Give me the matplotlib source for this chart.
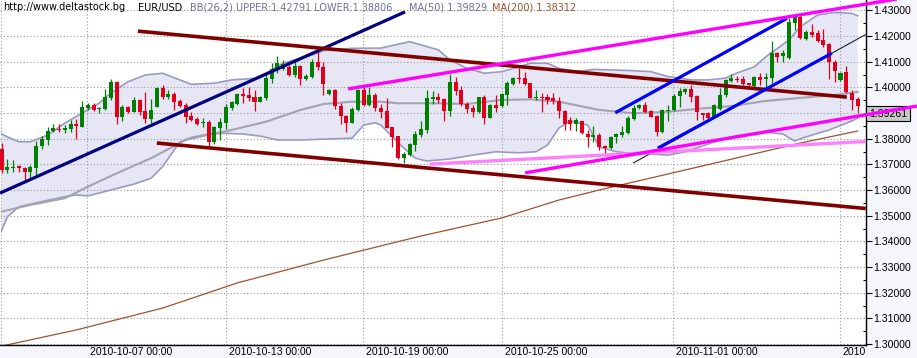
import numpy as np
import matplotlib
matplotlib.use("Agg")
import matplotlib.pyplot as plt
from matplotlib.transforms import ScaledTranslation, blended_transform_factory

# EUR/USD 4h bars, index 0 = first visible bar
opens = [
    1.3760, 1.3678, 1.3686, 1.3694, 1.3687, 1.3671, 1.3685, 1.3773, 1.3795, 1.3830,
    1.3839, 1.3834, 1.3838, 1.3857, 1.3847, 1.3921, 1.3931, 1.3914, 1.3914, 1.3957,
    1.4022, 1.3883, 1.3925, 1.3905, 1.3951, 1.3909, 1.3876, 1.3925, 1.3996, 1.3964,
    1.3973, 1.3947, 1.3931, 1.3888, 1.3876, 1.3860, 1.3864, 1.3788, 1.3843, 1.3862,
    1.3921, 1.3935, 1.3974, 1.3970, 1.3964, 1.3944, 1.3957, 1.4033, 1.4070, 1.4072,
    1.4080, 1.4048, 1.4083, 1.4033, 1.4042, 1.4098, 1.4080, 1.3973, 1.3990, 1.3927,
    1.3890, 1.3862, 1.3912, 1.3990, 1.3931, 1.3970, 1.3918, 1.3908, 1.3844, 1.3810,
    1.3724, 1.3736, 1.3775, 1.3814, 1.3834, 1.3956, 1.3962, 1.3955, 1.3908, 1.4022,
    1.3990, 1.3935, 1.3920, 1.3905, 1.3961, 1.3882, 1.3931, 1.3927, 1.3970, 1.4013,
    1.4038, 1.4036, 1.4016, 1.3959, 1.3964, 1.3964, 1.3957, 1.3947, 1.3909, 1.3873,
    1.3856, 1.3869, 1.3818, 1.3805, 1.3814, 1.3772, 1.3763, 1.3805, 1.3814, 1.3823,
    1.3876, 1.3918, 1.3931, 1.3908, 1.3888, 1.3827, 1.3908, 1.3912, 1.3966, 1.3983,
    1.3992, 1.3966, 1.3899, 1.3899, 1.3886, 1.3914, 1.3970, 1.4026, 1.4034, 1.4033,
    1.4016, 1.4005, 1.4042, 1.4031, 1.4035, 1.4135, 1.4122, 1.4113, 1.4252, 1.4275,
    1.4188, 1.4214, 1.4211, 1.4184, 1.4169, 1.4100, 1.4029, 1.4061, 1.3977, 1.3953,
]
highs = [
    1.3782, 1.3720, 1.3717, 1.3698, 1.3690, 1.3698, 1.3791, 1.3810, 1.3847, 1.3856,
    1.3856, 1.3853, 1.3873, 1.3876, 1.3947, 1.3940, 1.3940, 1.3925, 1.3992, 1.4031,
    1.4026, 1.3931, 1.3927, 1.3964, 1.3953, 1.3983, 1.3955, 1.4000, 1.4009, 1.3990,
    1.3983, 1.3955, 1.3938, 1.3905, 1.3883, 1.3879, 1.3873, 1.3849, 1.3879, 1.3935,
    1.3948, 1.3977, 1.3999, 1.4000, 1.3990, 1.3968, 1.4051, 1.4096, 1.4123, 1.4107,
    1.4087, 1.4107, 1.4087, 1.4051, 1.4110, 1.4146, 1.4100, 1.3992, 1.3992, 1.3938,
    1.3892, 1.3922, 1.3992, 1.4000, 1.4003, 1.3977, 1.3935, 1.3957, 1.3847, 1.3812,
    1.3749, 1.3782, 1.3831, 1.3870, 1.3990, 1.3987, 1.3979, 1.3960, 1.4052, 1.4042,
    1.4005, 1.3944, 1.3931, 1.3964, 1.3970, 1.3935, 1.3970, 1.3977, 1.4026, 1.4042,
    1.4074, 1.4060, 1.4018, 1.3990, 1.3977, 1.3974, 1.3977, 1.3964, 1.3912, 1.3883,
    1.3879, 1.3870, 1.3834, 1.3849, 1.3821, 1.3775, 1.3810, 1.3823, 1.3849, 1.3888,
    1.3931, 1.3935, 1.3944, 1.3912, 1.3892, 1.3917, 1.3931, 1.3974, 1.3996, 1.3996,
    1.4009, 1.3970, 1.3901, 1.3905, 1.3935, 1.3996, 1.4031, 1.4052, 1.4044, 1.4044,
    1.4018, 1.4044, 1.4057, 1.4057, 1.4181, 1.4139, 1.4146, 1.4269, 1.4282, 1.4282,
    1.4223, 1.4247, 1.4223, 1.4226, 1.4172, 1.4107, 1.4061, 1.4083, 1.3990, 1.3964,
]
lows = [
    1.3665, 1.3668, 1.3671, 1.3671, 1.3639, 1.3646, 1.3655, 1.3760, 1.3775, 1.3826,
    1.3825, 1.3821, 1.3827, 1.3798, 1.3844, 1.3912, 1.3909, 1.3899, 1.3912, 1.3951,
    1.3856, 1.3870, 1.3901, 1.3903, 1.3892, 1.3862, 1.3860, 1.3922, 1.3955, 1.3955,
    1.3912, 1.3922, 1.3862, 1.3870, 1.3853, 1.3844, 1.3772, 1.3779, 1.3795, 1.3837,
    1.3912, 1.3931, 1.3940, 1.3948, 1.3909, 1.3942, 1.3951, 1.4018, 1.4055, 1.4068,
    1.4044, 1.4042, 1.4009, 1.4029, 1.4035, 1.4068, 1.3970, 1.3970, 1.3917, 1.3857,
    1.3827, 1.3860, 1.3909, 1.3927, 1.3927, 1.3908, 1.3879, 1.3840, 1.3766, 1.3720,
    1.3704, 1.3733, 1.3753, 1.3808, 1.3821, 1.3935, 1.3940, 1.3870, 1.3888, 1.3970,
    1.3927, 1.3901, 1.3886, 1.3901, 1.3857, 1.3879, 1.3905, 1.3925, 1.3931, 1.4009,
    1.4016, 1.4009, 1.3957, 1.3951, 1.3905, 1.3935, 1.3935, 1.3879, 1.3834, 1.3834,
    1.3831, 1.3818, 1.3769, 1.3788, 1.3756, 1.3743, 1.3760, 1.3782, 1.3808, 1.3818,
    1.3873, 1.3914, 1.3901, 1.3883, 1.3810, 1.3821, 1.3870, 1.3909, 1.3925, 1.3974,
    1.3944, 1.3873, 1.3873, 1.3876, 1.3879, 1.3912, 1.3964, 1.4022, 1.4022, 1.4009,
    1.4005, 1.4000, 1.4009, 1.4003, 1.4016, 1.4100, 1.4100, 1.4109, 1.4223, 1.4187,
    1.4184, 1.4197, 1.4178, 1.4158, 1.4031, 1.4022, 1.4026, 1.3977, 1.3912, 1.3899,
]
closes = [
    1.3678, 1.3689, 1.3691, 1.3686, 1.3671, 1.3689, 1.3773, 1.3799, 1.3830, 1.3840,
    1.3834, 1.3843, 1.3857, 1.3848, 1.3922, 1.3931, 1.3912, 1.3918, 1.3964, 1.4022,
    1.3883, 1.3925, 1.3905, 1.3951, 1.3905, 1.3876, 1.3912, 1.3996, 1.3964, 1.3973,
    1.3944, 1.3927, 1.3883, 1.3873, 1.3857, 1.3866, 1.3788, 1.3844, 1.3865, 1.3922,
    1.3942, 1.3974, 1.3968, 1.3957, 1.3944, 1.3961, 1.4035, 1.4070, 1.4096, 1.4090,
    1.4048, 1.4083, 1.4033, 1.4045, 1.4098, 1.4080, 1.4012, 1.3990, 1.3927, 1.3890,
    1.3862, 1.3916, 1.3990, 1.3931, 1.3970, 1.3918, 1.3905, 1.3843, 1.3808, 1.3724,
    1.3740, 1.3778, 1.3818, 1.3838, 1.3959, 1.3962, 1.3951, 1.3908, 1.4021, 1.3986,
    1.3935, 1.3916, 1.3905, 1.3961, 1.3882, 1.3931, 1.3921, 1.3974, 1.4018, 1.4035,
    1.4033, 1.4013, 1.3960, 1.3964, 1.3959, 1.3951, 1.3947, 1.3908, 1.3857, 1.3856,
    1.3873, 1.3821, 1.3805, 1.3816, 1.3769, 1.3763, 1.3808, 1.3818, 1.3827, 1.3879,
    1.3921, 1.3931, 1.3905, 1.3886, 1.3827, 1.3912, 1.3912, 1.3968, 1.3987, 1.3992,
    1.3964, 1.3905, 1.3891, 1.3879, 1.3931, 1.3970, 1.4029, 1.4035, 1.4029, 1.4013,
    1.4008, 1.4042, 1.4029, 1.4039, 1.4135, 1.4117, 1.4133, 1.4256, 1.4275, 1.4191,
    1.4217, 1.4204, 1.4182, 1.4165, 1.4100, 1.4065, 1.4057, 1.3983, 1.3951, 1.3926,
]

# Bollinger(26,2) and moving averages, sampled along the chart (bar index, price)
bb_upper_bar = [0, 1, 3, 5, 8, 11, 14, 17, 19, 22, 25, 28, 31, 33, 37, 40, 44, 46, 49, 52,
                54, 56, 61, 66, 71, 76, 78, 81, 84, 87, 90, 92, 95, 97, 100, 103, 110, 113,
                116, 120, 123, 126, 128, 131, 133, 137, 139, 142, 145, 148, 149]
bb_upper = [1.3818, 1.3807, 1.3788, 1.3788, 1.3814, 1.3861, 1.3900, 1.3939, 1.3978, 1.4022,
            1.4048, 1.4055, 1.4029, 1.4012, 1.4016, 1.4029, 1.4035, 1.4055, 1.4094, 1.4114,
            1.4126, 1.4143, 1.4152, 1.4153, 1.4178, 1.4146, 1.4107, 1.4074, 1.4055, 1.4061,
            1.4080, 1.4094, 1.4094, 1.4074, 1.4061, 1.4070, 1.4065, 1.4061, 1.4042, 1.4029,
            1.4029, 1.4036, 1.4056, 1.4080, 1.4119, 1.4184, 1.4236, 1.4282, 1.4292, 1.4288,
            1.4279]
bb_lower_bar = [0, 1, 3, 7, 11, 13, 15, 19, 23, 26, 28, 31, 33, 36, 39, 42, 45, 48, 52, 61,
                63, 65, 66, 68, 70, 72, 74, 78, 82, 86, 90, 93, 95, 97, 99, 102, 104, 107,
                110, 113, 116, 119, 122, 125, 127, 130, 133, 136, 138, 140, 144, 148, 149]
bb_lower = [1.3444, 1.3496, 1.3535, 1.3555, 1.3574, 1.3581, 1.3577, 1.3600, 1.3623, 1.3646,
            1.3691, 1.3787, 1.3805, 1.3818, 1.3821, 1.3818, 1.3810, 1.3795, 1.3795, 1.3802,
            1.3853, 1.3862, 1.3853, 1.3808, 1.3763, 1.3724, 1.3713, 1.3721, 1.3736, 1.3749,
            1.3745, 1.3749, 1.3775, 1.3842, 1.3869, 1.3853, 1.3768, 1.3749, 1.3742, 1.3740,
            1.3736, 1.3749, 1.3772, 1.3795, 1.3807, 1.3818, 1.3826, 1.3818, 1.3791, 1.3807,
            1.3834, 1.3869, 1.3881]
ma50_bar = [0, 5, 11, 15, 20, 26, 32, 35, 40, 46, 52, 56, 61, 66, 69, 75, 81, 87, 92, 97,
            104, 110, 116, 122, 127, 133, 139, 145, 149]
ma50 = [1.3516, 1.3542, 1.3568, 1.3613, 1.3665, 1.3724, 1.3795, 1.3810, 1.3834, 1.3866,
        1.3912, 1.3935, 1.3944, 1.3944, 1.3938, 1.3938, 1.3935, 1.3951, 1.3953, 1.3944,
        1.3912, 1.3899, 1.3905, 1.3918, 1.3927, 1.3947, 1.3959, 1.3970, 1.3982]
ma200_bar = [0, 13, 28, 41, 56, 73, 87, 97, 104, 122, 139, 149]
ma200 = [1.2992, 1.3055, 1.3140, 1.3238, 1.3327, 1.3421, 1.3491, 1.3561, 1.3600, 1.3694,
         1.3783, 1.3830]

# hand-drawn trend lines: (bar, price) -> (bar, price)
navy_line = [(-0.3, 1.3588), (70.2, 1.4294)]
maroon_upper = [(23.7, 1.4219), (147.1, 1.3962)]
maroon_lower = [(27.0, 1.3783), (150.4, 1.3528)]
magenta_upper = [(60.3, 1.3994), (159.3, 1.4357)]
magenta_lower = [(91.1, 1.3667), (159.3, 1.3927)]
pink_line = [(74.5, 1.3701), (150.4, 1.3789)]
blue_upper = [(106.8, 1.3901), (136.7, 1.4269)]
blue_lower = [(114.2, 1.3763), (144.5, 1.4133)]
thin_black = [(109.9, 1.3705), (150.4, 1.4206)]

date_tick_bars = [14.85, 39.0, 62.9, 87.1, 116.8, 145.9]
# last date label is cut by the price axis on the original, only "2010" shows
date_tick_labels = ["2010-10-07 00:00", "2010-10-13 00:00", "2010-10-19 00:00",
                    "2010-10-25 00:00", "2010-11-01 00:00", "2010"]
price_ticks = [1.30, 1.31, 1.32, 1.33, 1.34, 1.35, 1.36, 1.37, 1.38, 1.39, 1.40, 1.41, 1.42, 1.43]
last_price = 1.39261

W, H = 917, 358
fig = plt.figure(figsize=(W / 100, H / 100), dpi=100, facecolor="#F5F5FC")
ax = fig.add_axes([0, 13 / H, 866 / W, 345 / H])
ax.set_facecolor("white")

# bands
ax.fill(np.r_[bb_upper_bar, bb_lower_bar[::-1]], np.r_[bb_upper, bb_lower[::-1]],
        color="#E6E6F5", lw=0, zorder=1)
ax.plot(bb_upper_bar, bb_upper, color="#9A9AC0", lw=1.2, zorder=2)
ax.plot(bb_lower_bar, bb_lower, color="#9A9AC0", lw=1.2, zorder=2)
ax.plot(ma50_bar, ma50, color="#A4A4B0", lw=1.5, zorder=2)
ax.plot(ma200_bar, ma200, color="#A0522D", lw=0.9, zorder=2)

# candles
o, h, l, c = (np.array(v) for v in (opens, highs, lows, closes))
x = np.arange(len(o))
col = np.where(c >= o, "#008000", "#E0001B")
ax.vlines(x, l, h, colors=col, lw=0.9, zorder=4)
ax.bar(x, np.maximum(np.abs(c - o), 0.0003), bottom=np.minimum(o, c), width=0.7,
       color=col, lw=0, zorder=5)

# trend lines
def seg(pts, color, lw, z=6):
    (b0, p0), (b1, p1) = pts
    ax.plot([b0, b1], [p0, p1], color=color, lw=lw, zorder=z, clip_on=False,
            solid_capstyle="butt")

seg(thin_black, "#202020", 0.8)
seg(navy_line, "#000080", 2.3)
seg(maroon_upper, "#800000", 2.6)
seg(maroon_lower, "#800000", 2.6)
seg(pink_line, "#FF80FF", 2.4)
seg(magenta_upper, "#FF00FF", 2.4, 8)
seg(magenta_lower, "#FF00FF", 2.4, 8)
seg(blue_upper, "#0000FF", 2.3)
seg(blue_lower, "#0000FF", 2.3)

ax.set_xlim(-0.3, 150.44)
ax.set_ylim(1.29962, 1.43403)

# axes look
for s in ("top", "left"):
    ax.spines[s].set_visible(False)
for s in ("bottom", "right"):
    ax.spines[s].set_color("black")
    ax.spines[s].set_linewidth(1.0)

tick_font = dict(family="Liberation Sans", size=7.6)
ax.yaxis.tick_right()
ax.set_yticks(price_ticks)
# the 1.39 label sits under the last-price box
ax.set_yticklabels(["" if abs(v - 1.39) < 1e-9 else f"{v:.5f}" for v in price_ticks],
                   fontdict=tick_font)
ax.set_yticks([v + 0.005 for v in price_ticks[:-1]], minor=True)
ax.tick_params(axis="y", which="major", direction="out", length=4, width=0.8, pad=1.5)
ax.tick_params(axis="y", which="minor", direction="in", length=2.5, width=0.8)

ax.set_xticks(date_tick_bars)
ax.set_xticklabels(date_tick_labels, fontdict=tick_font)
ax.tick_params(axis="x", length=0, pad=1.5)
off = ScaledTranslation(2 / 72, 0, fig.dpi_scale_trans)
for lbl in ax.get_xticklabels():
    lbl.set_horizontalalignment("left")
    lbl.set_transform(lbl.get_transform() + off)

ax.grid(True, which="major", color="#9A9A9A", lw=0.8, ls=(0, (1, 2)))
ax.axvline(-0.12, color="#9A9A9A", lw=0.8, ls=(0, (1, 2)), zorder=1.5)

# last price box (top edge at the price level)
ax.text(1.0 + 3 / 866, last_price - 0.0009, f"{last_price:.5f}",
        transform=blended_transform_factory(ax.transAxes, ax.transData),
        ha="left", va="top", fontdict=tick_font, zorder=7, clip_on=False,
        bbox=dict(boxstyle="square,pad=0.25", fc="#C8C8C8", ec="black", lw=0.8))

# header
hy = 1 - 7.5 / H
hdr = dict(family="DejaVu Sans", size=7, va="center")
fig.text(3 / W, hy, "http://www.deltastock.bg", color="black", **hdr)
fig.text(138 / W, hy, "EUR/USD", color="black", **hdr)
fig.text(190 / W, hy, "BB(26,2) UPPER:1.42791 LOWER:1.38806", color="#7070A0", **hdr)
fig.text(409 / W, hy, "MA(50) 1.39829", color="#7070A0", **hdr)
fig.text(492 / W, hy, "MA(200) 1.38312", color="#A0522D", **hdr)

fig.savefig("out.png", dpi=100, facecolor=fig.get_facecolor())
